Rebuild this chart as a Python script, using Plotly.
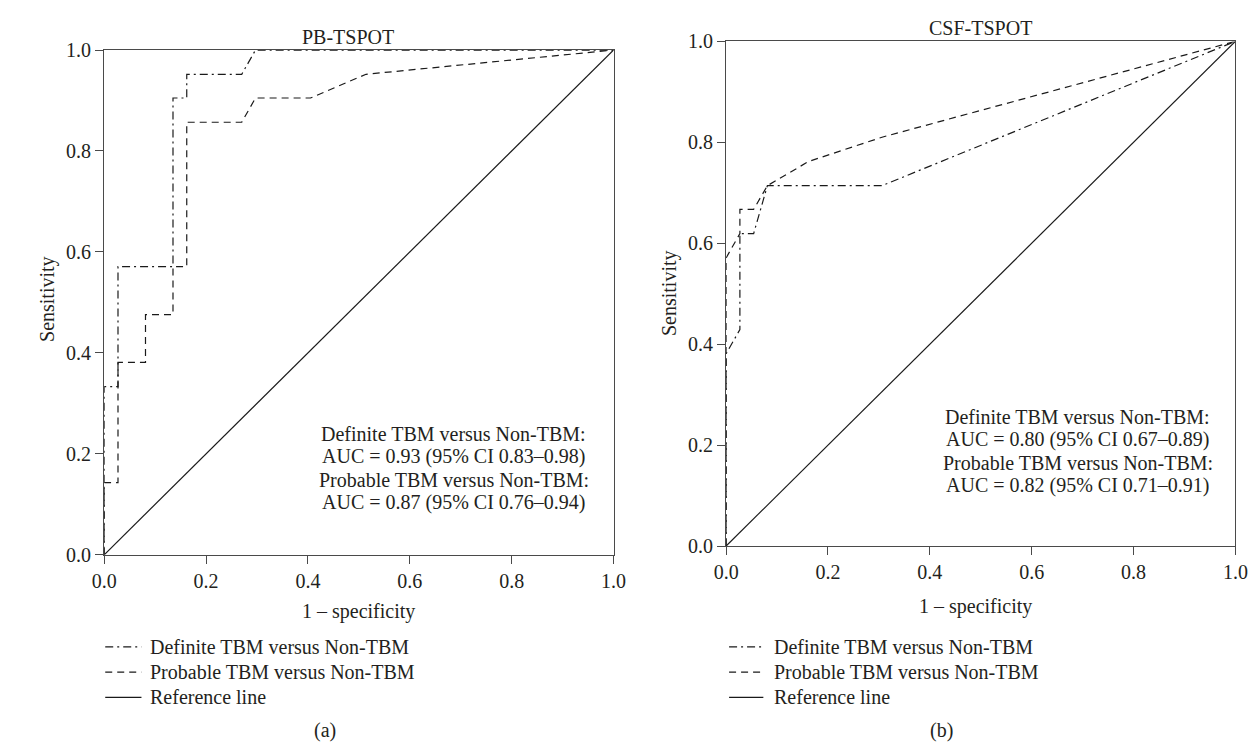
import plotly.graph_objects as go

# ---------------- data ----------------
pb_def_x = [0, 0, 0.027, 0.027, 0.135, 0.135, 0.162, 0.162, 0.270, 0.297, 1.0]
pb_def_y = [0, 0.333, 0.333, 0.571, 0.571, 0.905, 0.905, 0.952, 0.952, 1.0, 1.0]

pb_prob_x = [0, 0, 0.027, 0.027, 0.081, 0.081, 0.135, 0.135, 0.162, 0.162, 0.270, 0.297, 0.405, 0.514, 1.0]
pb_prob_y = [0, 0.143, 0.143, 0.381, 0.381, 0.476, 0.476, 0.571, 0.571, 0.857, 0.857, 0.905, 0.905, 0.952, 1.0]

csf_def_x = [0, 0, 0.027, 0.027, 0.054, 0.081, 0.306, 1.0]
csf_def_y = [0, 0.381, 0.429, 0.619, 0.619, 0.714, 0.714, 1.0]

csf_prob_x = [0, 0, 0.027, 0.027, 0.054, 0.081, 0.162, 0.306, 1.0]
csf_prob_y = [0, 0.571, 0.619, 0.667, 0.667, 0.714, 0.762, 0.810, 1.0]

ref_x = [0, 1]
ref_y = [0, 1]

panel_titles = ["PB-TSPOT", "CSF-TSPOT"]
panel_tags = ["(a)", "(b)"]
legend_labels = ["Definite TBM versus Non-TBM", "Probable TBM versus Non-TBM", "Reference line"]
auc_texts = [
    ["Definite TBM versus Non-TBM:", "AUC = 0.93 (95% CI 0.83–0.98)",
     "Probable TBM versus Non-TBM:", "AUC = 0.87 (95% CI 0.76–0.94)"],
    ["Definite TBM versus Non-TBM:", "AUC = 0.80 (95% CI 0.67–0.89)",
     "Probable TBM versus Non-TBM:", "AUC = 0.82 (95% CI 0.71–0.91)"],
]
tick_vals = [0, 0.2, 0.4, 0.6, 0.8, 1.0]
tick_text = ["0.0", "0.2", "0.4", "0.6", "0.8", "1.0"]

# ---------------- layout helpers ----------------
W, H = 1260, 748
FONT = "Liberation Serif"
TXT = "#231f20"
AX = "#4a4a4a"
LINE = "#1a1a1a"
DASHDOT = "8px,4px,2px,4px"
DASH = "7px,5px"


def px(x):
    return x / W


def py(y):
    return 1 - y / H


# plot-area boxes in pixels (left, right, top, bottom)
boxes = [(85, 605, 32, 552), (720, 1240, 23, 543)]

fig = go.Figure()

series = [
    [(pb_def_x, pb_def_y, DASHDOT), (pb_prob_x, pb_prob_y, DASH), (ref_x, ref_y, "solid")],
    [(csf_def_x, csf_def_y, DASHDOT), (csf_prob_x, csf_prob_y, DASH), (ref_x, ref_y, "solid")],
]

for i, panel in enumerate(series):
    xa = "x" if i == 0 else "x2"
    ya = "y" if i == 0 else "y2"
    for (xs, ys, dash), name in zip(panel, legend_labels):
        fig.add_trace(go.Scatter(
            x=xs, y=ys, mode="lines", name=name, showlegend=False,
            line=dict(color=LINE, width=1.2, dash=dash),
            xaxis=xa, yaxis=ya, hoverinfo="skip"))

axis_common = dict(
    range=[0, 1], tickvals=tick_vals, ticktext=tick_text,
    showgrid=False, zeroline=False, showline=True, mirror=True,
    linecolor=AX, linewidth=1.3, ticks="outside", ticklen=8,
    tickcolor=AX, tickwidth=1.3,
    tickfont=dict(family=FONT, size=20, color=TXT), fixedrange=True,
)

layout_axes = {}
for i, (l, r, t, b) in enumerate(boxes):
    sfx = "" if i == 0 else "2"
    layout_axes["xaxis" + sfx] = dict(axis_common, domain=[px(l), px(r)],
                                      anchor="y" + sfx)
    layout_axes["yaxis" + sfx] = dict(axis_common, domain=[py(b), py(t)],
                                      anchor="x" + sfx)

annotations = []
shapes = []


def add_text(text, x, y, size=20, angle=0, xanchor="center"):
    annotations.append(dict(
        text=text, x=px(x), y=py(y), xref="paper", yref="paper",
        showarrow=False, xanchor=xanchor, yanchor="middle", textangle=angle,
        font=dict(family=FONT, size=size, color=TXT)))


# panel titles
add_text(panel_titles[0], 334, 19)
add_text(panel_titles[1], 980, 9)
# axis titles
add_text("Sensitivity", 27, 288, angle=-90)
add_text("Sensitivity", 662, 282, angle=-90)
add_text("1 – specificity", 345, 610)
add_text("1 – specificity", 975, 605)
# AUC annotations
auc_pos = [(442, [428, 451, 475, 498]), (1079, [410, 433, 457, 481])]
for (cx, ys), lines in zip(auc_pos, auc_texts):
    for yy, line in zip(ys, lines):
        add_text(line, cx, yy)

# legends (key samples + labels)
legend_pos = [(86, 123, 130), (723, 758, 767)]
legend_y = [647, 673, 699]
dashes = [DASHDOT, DASH, "solid"]
for (x0, x1, tx) in legend_pos:
    for yy, lab, dsh in zip(legend_y, legend_labels, dashes):
        shapes.append(dict(type="line", xref="paper", yref="paper",
                           x0=px(x0), x1=px(x1), y0=py(yy), y1=py(yy),
                           line=dict(color=LINE, width=1.2, dash=dsh)))
        add_text(lab, tx, yy, xanchor="left")

# panel tags
add_text(panel_tags[0], 310, 733)
add_text(panel_tags[1], 940, 733)

fig.update_layout(
    width=W, height=H, autosize=False,
    margin=dict(l=0, r=0, t=0, b=0),
    paper_bgcolor="white", plot_bgcolor="white",
    showlegend=False,
    annotations=annotations, shapes=shapes,
    font=dict(family=FONT, color=TXT),
    **layout_axes,
)

fig.write_html("out.html", config={"displayModeBar": False})
